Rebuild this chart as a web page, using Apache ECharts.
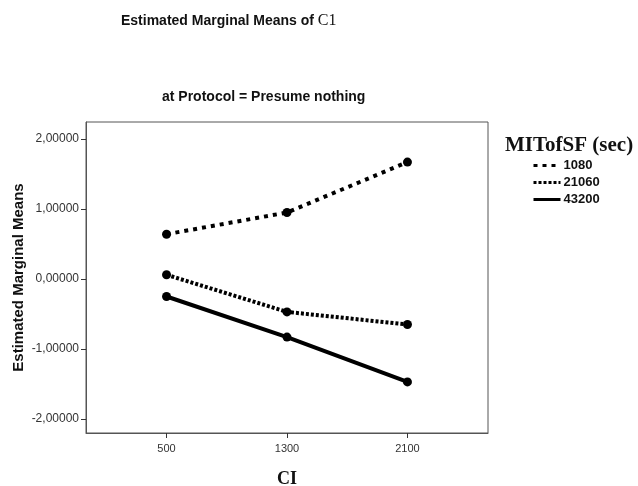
<!DOCTYPE html>
<html>
<head>
<meta charset="utf-8">
<script src="https://cdn.jsdelivr.net/npm/echarts@6/dist/echarts.min.js"></script>
<style>
  html, body { margin: 0; padding: 0; background: #fff; }
  #chart { width: 638px; height: 486px; }
</style>
</head>
<body>
<div id="chart"></div>
<script>
// CI levels on the horizontal axis
const ciLevels = [500, 1300, 2100];
// Estimated marginal means of C1 for each MITofSF level
const mean1080 = [0.64, 0.95, 1.67];
const mean21060 = [0.06, -0.47, -0.65];
const mean43200 = [-0.25, -0.83, -1.47];
const seriesNames = ['1080', '21060', '43200'];
const yTicks = [-2, -1, 0, 1, 2];

const pairs = vals => ciLevels.map((c, i) => [c, vals[i]]);
const sans = 'Arial, "Liberation Sans", sans-serif';
const serif = '"Times New Roman", "Liberation Serif", serif';

const lineSeries = (name, vals, lineType) => ({
  name: name,
  type: 'line',
  data: pairs(vals),
  symbol: 'circle',
  symbolSize: 9,
  itemStyle: { color: '#000' },
  lineStyle: { color: '#000', width: 4, type: lineType, cap: 'butt' },
  emphasis: { disabled: true },
  animation: false
});

const chart = echarts.init(document.getElementById('chart'));
chart.setOption({
  backgroundColor: '#fff',
  animation: false,
  title: [
    {
      text: 'Estimated Marginal Means of {c|C1}',
      left: 116, top: 8,
      textStyle: {
        fontFamily: sans, fontSize: 14, fontWeight: 'bold', color: '#111',
        rich: { c: { fontFamily: serif, fontSize: 16, fontWeight: 'normal', color: '#111' } }
      }
    },
    {
      text: 'at Protocol = Presume nothing',
      left: 157, top: 85,
      textStyle: { fontFamily: sans, fontSize: 14, fontWeight: 'bold', color: '#111' }
    },
    {
      text: 'MITofSF (sec)',
      left: 500, top: 130,
      textStyle: { fontFamily: serif, fontSize: 21, fontWeight: 'bold', color: '#111' }
    }
  ],
  legend: {
    orient: 'vertical',
    left: 527, top: 154,
    itemWidth: 27, itemHeight: 12, itemGap: 4,
    data: seriesNames,
    itemStyle: { opacity: 0 },
    lineStyle: { width: 3 },
    textStyle: { fontFamily: sans, fontSize: 13, fontWeight: 'bold', color: '#111', padding: [0, 0, 0, -2] },
    selectedMode: false
  },
  grid: {
    left: 86, top: 122, right: 150, bottom: 53,
    outerBoundsMode: 'none',
    containLabel: false,
    show: true, borderColor: '#555', borderWidth: 1
  },
  xAxis: {
    type: 'value',
    min: -35, max: 2635,
    name: 'CI',
    nameLocation: 'middle', nameGap: 37,
    nameTextStyle: { fontFamily: serif, fontSize: 18, fontWeight: 'bold', color: '#111' },
    axisLine: { onZero: false, lineStyle: { color: '#555' } },
    axisTick: { show: true, length: 5, customValues: ciLevels, lineStyle: { color: '#333' } },
    axisLabel: {
      customValues: ciLevels, margin: 10,
      fontFamily: sans, fontSize: 11, color: '#333',
      formatter: v => String(v)
    },
    splitLine: { show: false }
  },
  yAxis: {
    type: 'value',
    min: -2.2, max: 2.243,
    name: 'Estimated Marginal Means',
    nameLocation: 'middle', nameGap: 60, nameRotate: 90,
    nameMoveOverlap: false,
    nameTextStyle: { fontFamily: sans, fontSize: 15, fontWeight: 'bold', color: '#111' },
    axisLine: { show: true, onZero: false, lineStyle: { color: '#555' } },
    axisTick: { show: true, length: 5, customValues: yTicks, lineStyle: { color: '#333' } },
    axisLabel: {
      customValues: yTicks, margin: 7,
      fontFamily: sans, fontSize: 12, color: '#333',
      formatter: v => v.toFixed(5).replace('.', ',')
    },
    splitLine: { show: false }
  },
  series: [
    lineSeries(seriesNames[0], mean1080, [4, 5]),
    lineSeries(seriesNames[1], mean21060, [3, 2]),
    lineSeries(seriesNames[2], mean43200, 'solid')
  ]
});
</script>
</body>
</html>
